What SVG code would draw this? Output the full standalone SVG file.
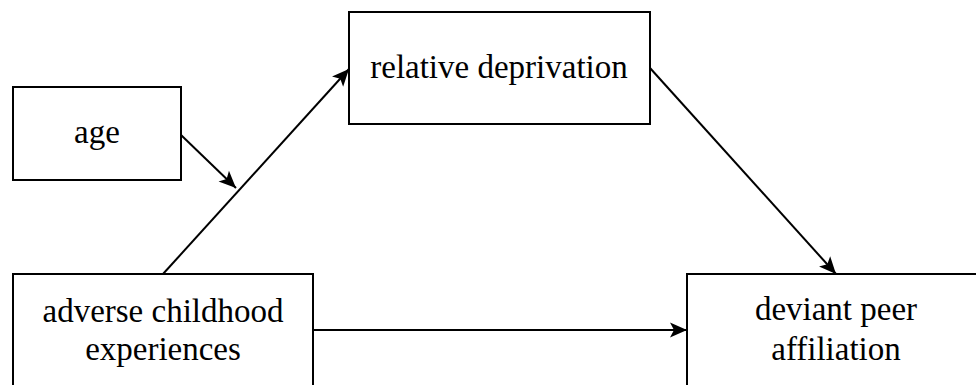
<svg xmlns="http://www.w3.org/2000/svg" width="976" height="385" viewBox="0 0 976 385">
<style>
.box{fill:#fff;stroke:#000;stroke-width:2}
.lbl{font-family:"Liberation Serif","Times New Roman",serif;font-size:33px;fill:#000;text-anchor:middle}
.edge{fill:none;stroke:#000;stroke-width:2}
</style>
<defs>
<marker id="ah" markerUnits="userSpaceOnUse" markerWidth="20" markerHeight="20" viewBox="0 0 20 20" refX="18" refY="10" orient="auto">
<path d="M1,2.5 L18,10 L1,17.5 L5,10 Z" fill="#000"/>
</marker>
</defs>
<rect width="976" height="385" fill="#fff"/>
<g id="connectors">
<line class="edge" x1="181" y1="135" x2="236" y2="188" marker-end="url(#ah)"/>
<line class="edge" x1="163" y1="274" x2="349" y2="69" marker-end="url(#ah)"/>
<line class="edge" x1="650" y1="68" x2="836" y2="274" marker-end="url(#ah)"/>
<line class="edge" x1="313" y1="330" x2="687" y2="330" marker-end="url(#ah)"/>
</g>
<g id="age">
<rect class="box" x="13" y="87" width="168" height="93"/>
<text class="lbl" x="97" y="143">age</text>
</g>
<g id="relative-deprivation">
<rect class="box" x="349" y="12" width="301" height="112"/>
<text class="lbl" x="499" y="78">relative deprivation</text>
</g>
<g id="adverse-childhood-experiences">
<rect class="box" x="13" y="274" width="300" height="130"/>
<text class="lbl" x="163" y="322">adverse childhood</text>
<text class="lbl" x="163" y="360">experiences</text>
</g>
<g id="deviant-peer-affiliation">
<rect class="box" x="687" y="274" width="300" height="130"/>
<text class="lbl" x="836" y="320">deviant peer</text>
<text class="lbl" x="836" y="360">affiliation</text>
</g>
</svg>
